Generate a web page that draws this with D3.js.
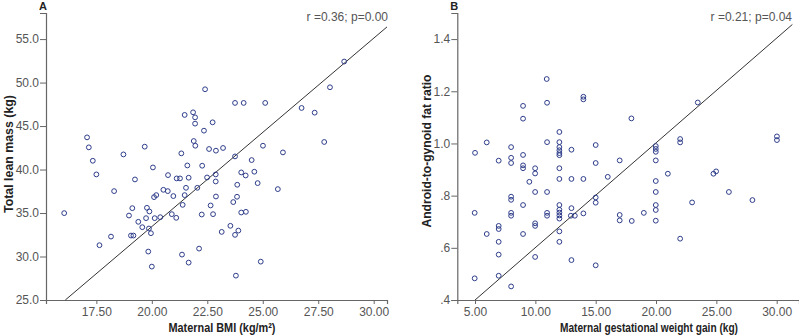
<!DOCTYPE html>
<html><head><meta charset="utf-8">
<script src="https://cdn.jsdelivr.net/npm/d3@7"></script>
<style>
html,body{margin:0;padding:0;background:#fff;}
svg{display:block;}
.tick text{font-family:"Liberation Sans",Arial,sans-serif;font-size:12px;fill:#555;}
.ttl{font-family:"Liberation Sans",Arial,sans-serif;font-weight:bold;font-size:13.5px;fill:#222;}
.ann{font-family:"Liberation Sans",Arial,sans-serif;font-size:12px;fill:#555;}
.lab{font-family:"Liberation Sans",Arial,sans-serif;font-weight:bold;font-size:11px;fill:#222;}
</style>
</head><body>
<svg id="c" width="799" height="335"></svg>
<script>
// Panel A: Maternal BMI vs Total lean mass
const bmiA = [28.67,28.03,26.75,27.34,27.77,22.40,23.75,24.14,25.11,21.86,21.48,21.95,21.95,22.74,22.35,21.89,21.96,22.58,22.89,23.21,25.01,25.91,23.75,24.50,21.33,19.68,18.72,17.08,17.16,17.34,20.05,21.60,22.27,16.05,17.50,17.64,18.30,18.16,19.24,18.97,19.12,19.06,19.17,19.39,19.57,19.74,19.78,19.89,19.87,19.96,19.84,20.00,20.10,20.20,20.13,20.38,20.52,20.72,20.73,20.97,20.90,21.10,21.12,21.27,21.39,21.48,21.54,21.66,21.36,21.66,22.05,22.25,22.13,22.49,22.88,22.88,22.89,22.65,22.76,23.15,23.54,23.67,23.84,23.85,23.75,23.90,23.79,24.03,24.23,24.03,24.24,24.62,24.77,24.91,25.68];
const leanA = [52.42,49.46,47.08,46.54,43.17,49.23,47.66,47.66,47.66,46.58,46.28,46.00,45.28,45.43,44.47,43.28,42.74,42.36,42.17,42.48,42.74,41.97,41.51,41.09,41.86,42.63,41.74,43.70,42.55,41.01,40.24,40.47,40.44,34.99,39.44,31.30,37.52,32.29,38.86,34.71,35.56,32.41,32.41,33.99,33.37,34.41,35.60,35.18,33.22,32.68,30.57,28.84,36.83,37.06,34.41,34.52,37.67,37.52,39.36,36.95,34.87,34.45,38.98,38.98,35.94,37.06,37.90,39.06,30.22,29.30,37.90,34.83,30.91,39.09,39.44,38.63,36.90,35.87,34.87,32.83,33.53,36.26,36.87,38.25,32.49,32.98,27.80,39.67,39.32,35.06,35.14,39.75,38.44,29.41,37.75];
const fitA = [[16.1,25.0],[30.6,56.4]];
const xTicksA = [17.5,20,22.5,25,27.5,30];
const yTicksA = [25,30,35,40,45,50,55];
const annA = "r =0.36; p=0.00";

// Panel B: Gestational weight gain vs Android-to-gynoid fat ratio
const gwgB = [10.94,10.97,8.98,8.98,13.98,13.98,17.96,23.46,11.99,10.97,11.99,11.99,11.99,11.99,11.99,12.99,15.0,5.97,7.99,7.99,7.99,8.98,5.0,6.96,8.98,8.98,9.98,11.99,15.0,16.99,19.98,19.98,19.98,19.98,22.0,22.0,30.02,30.02,24.76,24.98,4.97,4.97,5.97,6.96,6.96,6.96,6.96,6.96,7.99,7.99,7.99,7.99,7.99,8.98,8.98,9.5,9.98,9.98,9.98,9.98,9.98,10.97,10.97,10.97,11.99,11.99,11.99,11.99,11.99,11.99,11.99,11.99,12.99,12.99,12.94,13.27,12.99,13.98,13.98,15.0,15.0,15.0,16.0,16.99,16.99,17.99,18.99,19.98,19.98,19.98,19.98,19.98,20.98,22.0,22.99,26.04,27.99];
const agrB = [1.247,1.156,1.144,1.095,1.179,1.169,1.096,1.157,1.044,1.005,1.005,0.986,0.974,0.963,0.955,0.976,0.994,1.004,0.986,0.945,0.925,0.956,0.964,0.934,0.916,0.905,0.905,0.905,0.925,0.935,0.990,0.979,0.968,0.935,1.017,1.004,1.027,1.013,0.884,0.893,0.734,0.483,0.653,0.684,0.672,0.623,0.574,0.493,0.796,0.784,0.734,0.723,0.452,0.764,0.653,0.853,0.885,0.814,0.694,0.684,0.565,0.814,0.734,0.723,0.864,0.764,0.746,0.735,0.724,0.712,0.663,0.623,0.864,0.752,0.723,0.723,0.553,0.864,0.732,0.793,0.773,0.533,0.872,0.726,0.705,0.703,0.734,0.856,0.814,0.764,0.745,0.704,0.884,0.635,0.774,0.814,0.783];
const fitB = [[5.0,0.4],[31.3,1.456]];
const xTicksB = [5,10,15,20,25,30];
const yTicksB = [0.4,0.6,0.8,1.0,1.2,1.4];
const annB = "r =0.21; p=0.04";

const svg = d3.select("#c");

function panel(o){
  const g = svg.append("g");
  const x = d3.scaleLinear().domain(o.xd).range([o.left,o.right]);
  const y = d3.scaleLinear().domain(o.yd).range([300,13]);
  const xa = g.append("g").attr("transform","translate(0,300)")
    .call(d3.axisBottom(x).tickValues(o.xt).tickFormat(d3.format(".2f")).tickSizeOuter(0).tickSize(4).tickPadding(3));
  const ya = g.append("g").attr("transform",`translate(${o.left},0)`)
    .call(d3.axisLeft(y).tickValues(o.yt).tickFormat(o.yf).tickSizeOuter(0).tickSize(6).tickPadding(1));
  [xa,ya].forEach(a=>{a.select(".domain").attr("stroke","#666").attr("stroke-width",1.2);
    a.selectAll(".tick line").attr("stroke","#666");});
  g.append("line").attr("x1",x(o.fit[0][0])).attr("y1",y(o.fit[0][1]))
    .attr("x2",x(o.fit[1][0])).attr("y2",y(o.fit[1][1])).attr("stroke","#333").attr("stroke-width",1);
  g.append("g").selectAll("circle").data(o.xs.map((v,i)=>[v,o.ys[i]])).join("circle")
    .attr("cx",d=>x(d[0])).attr("cy",d=>y(d[1])).attr("r",2.4)
    .attr("fill","none").attr("stroke","#2e3d8a").attr("stroke-width",1);
  g.append("text").attr("class","ann").attr("x",o.annX).attr("y",21).attr("text-anchor","end").text(o.ann);
  g.append("text").attr("class","lab").attr("x",o.left-3).attr("y",10).attr("text-anchor","middle").text(o.lab);
  g.append("text").attr("class","ttl").attr("x",o.xtX).attr("y",332).attr("text-anchor","middle")
    .attr("textLength",o.xtL).attr("lengthAdjust","spacingAndGlyphs").text(o.xt_);
  g.append("text").attr("class","ttl").attr("transform",`translate(${o.ytX},${o.ytY}) rotate(-90)`)
    .attr("text-anchor","middle").attr("textLength",o.ytL).attr("lengthAdjust","spacingAndGlyphs").text(o.yt_);
}

panel({left:46,right:387,xd:[15.23,30.6],yd:[25,58],xt:xTicksA,yt:yTicksA,yf:d3.format(".1f"),
  fit:fitA,xs:bmiA,ys:leanA,ann:annA,annX:388,lab:"A",xtX:222,xtL:107,
  xt_:"Maternal BMI (kg/m²)",ytX:12.5,ytY:154,ytL:118,yt_:"Total lean mass (kg)"});
panel({left:457.3,right:799,xd:[3.53,31.85],yd:[0.4,1.5],xt:xTicksB,yt:yTicksB,
  yf:d=>{const s=d3.format(".1f")(d);return s.startsWith("0")?s.slice(1):s;},
  fit:fitB,xs:gwgB,ys:agrB,ann:annB,annX:792,lab:"B",xtX:649,xtL:178,
  xt_:"Maternal gestational weight gain (kg)",ytX:431,ytY:151,ytL:153,yt_:"Android-to-gynoid fat ratio"});
</script>
</body></html>
